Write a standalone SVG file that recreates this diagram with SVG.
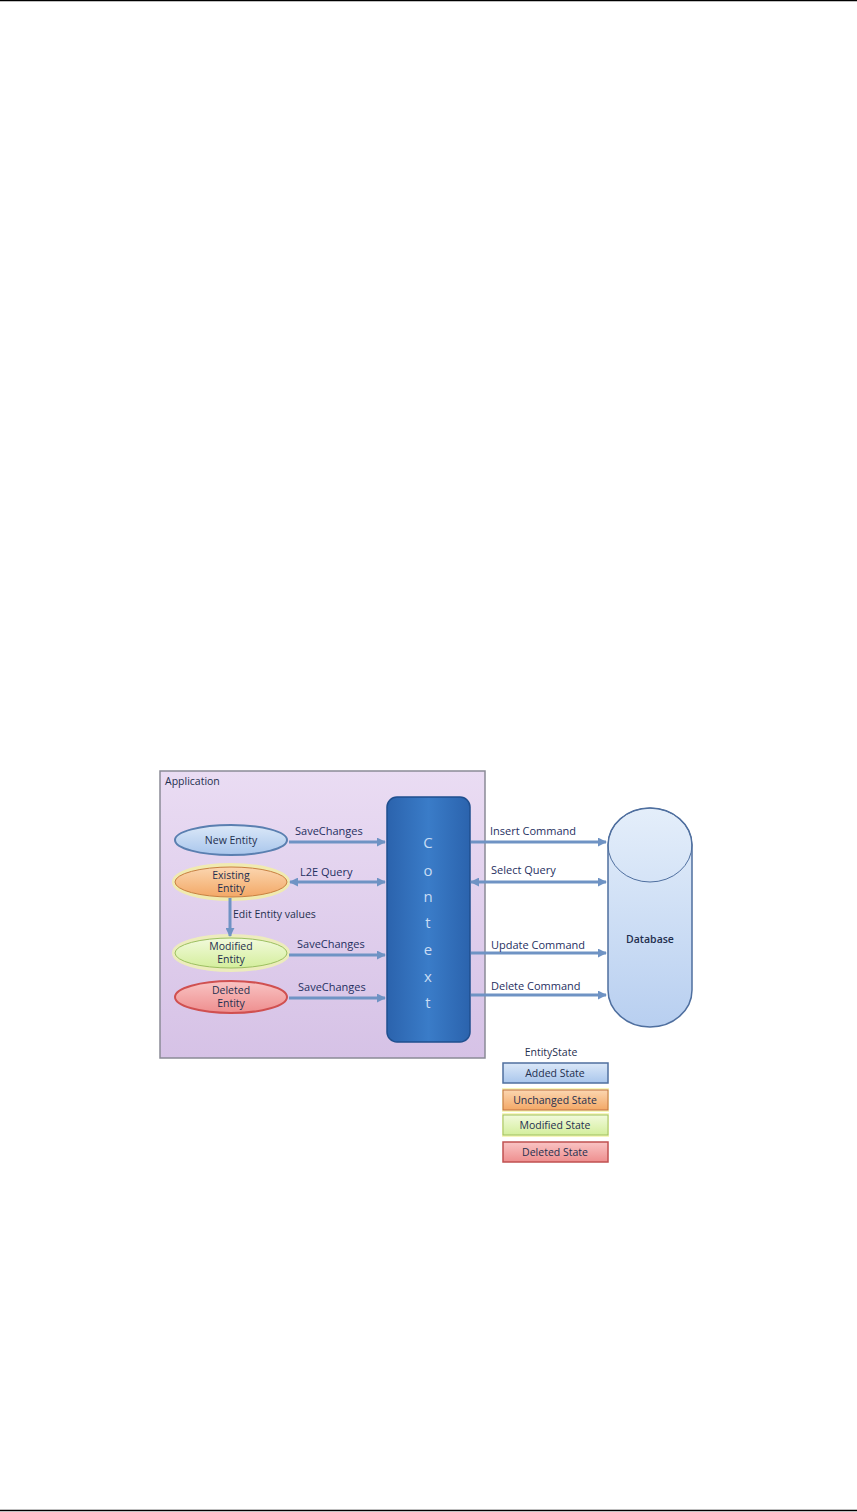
<svg xmlns="http://www.w3.org/2000/svg" width="857" height="1512" viewBox="0 0 857 1512">
<defs>
<style>
.t{font-family:"Open Sans","Liberation Sans",sans-serif;font-size:10.5px;fill:#1f2f4f}
.lbl{font-family:"Open Sans","Liberation Sans",sans-serif;font-size:11px;fill:#1f2f5f}
.ctx{font-family:"Open Sans","Liberation Sans",sans-serif;font-size:15px;fill:#c8dcf4;text-anchor:middle}
.c{text-anchor:middle}
.arr{stroke:#6f93c4;stroke-width:3;fill:none}
</style>
<linearGradient id="gApp" x1="0" y1="0" x2="0" y2="1"><stop offset="0" stop-color="#eadcf3"/><stop offset="1" stop-color="#d6c2e6"/></linearGradient>
<linearGradient id="gCtx" x1="0" y1="0" x2="1" y2="0"><stop offset="0" stop-color="#2b63ad"/><stop offset="0.5" stop-color="#3a7cc8"/><stop offset="1" stop-color="#2b63ad"/></linearGradient>
<linearGradient id="gDb" x1="0" y1="0" x2="0" y2="1"><stop offset="0" stop-color="#e4eefa"/><stop offset="1" stop-color="#b8cff0"/></linearGradient>
<linearGradient id="gBlue" x1="0" y1="0" x2="0" y2="1"><stop offset="0" stop-color="#dbe8f8"/><stop offset="1" stop-color="#a9c6ec"/></linearGradient>
<linearGradient id="gOr" x1="0" y1="0" x2="0" y2="1"><stop offset="0" stop-color="#fbd6b0"/><stop offset="1" stop-color="#f3a866"/></linearGradient>
<linearGradient id="gGr" x1="0" y1="0" x2="0" y2="1"><stop offset="0" stop-color="#f2fadc"/><stop offset="1" stop-color="#d4ee9c"/></linearGradient>
<linearGradient id="gRd" x1="0" y1="0" x2="0" y2="1"><stop offset="0" stop-color="#f9c4c4"/><stop offset="1" stop-color="#ee8e8e"/></linearGradient>
<marker id="ah" viewBox="0 0 10 10" refX="9" refY="5" markerWidth="3" markerHeight="3" orient="auto-start-reverse"><path d="M0,0 L10,5 L0,10 z" fill="#6f93c4"/></marker>
</defs>
<rect width="857" height="1512" fill="#fff"/>
<line x1="0" y1="0.5" x2="857" y2="0.5" stroke="#000" stroke-width="1.5"/>
<line x1="0" y1="1510.5" x2="857" y2="1510.5" stroke="#000" stroke-width="1.5"/>

<g id="application">
<rect x="160" y="771" width="325" height="287" fill="url(#gApp)" stroke="#8a8a96" stroke-width="1.5"/>
<text class="t" x="165" y="785" font-size="11">Application</text>
</g>

<g id="context">
<rect x="387" y="797" width="83" height="245" rx="10" fill="url(#gCtx)" stroke="#1f4f8f" stroke-width="1.5"/>
<text class="ctx" x="428" y="848">C</text>
<text class="ctx" x="428" y="876">o</text>
<text class="ctx" x="428" y="902">n</text>
<text class="ctx" x="428" y="928">t</text>
<text class="ctx" x="428" y="955">e</text>
<text class="ctx" x="428" y="982">x</text>
<text class="ctx" x="428" y="1008">t</text>
</g>

<g id="database">
<path d="M608,845 A42,37 0 0 1 692,845 L692,990 A42,37 0 0 1 608,990 Z" fill="url(#gDb)" stroke="#4f6f9f" stroke-width="1.5"/>
<ellipse cx="650" cy="845" rx="42" ry="37" fill="none" stroke="#4f6f9f" stroke-width="1"/>
<text class="t c" x="650" y="943" font-size="13" font-weight="600" fill="#1f2f4f">Database</text>
</g>

<g id="new-entity">
<ellipse cx="231" cy="840" rx="56" ry="15" fill="url(#gBlue)" stroke="#5a7fb0" stroke-width="2"/>
<text class="t c" x="231" y="844">New Entity</text>
</g>
<g id="existing-entity">
<ellipse cx="231" cy="882" rx="57" ry="17" fill="none" stroke="#f4f0a0" stroke-width="4" opacity="0.8"/>
<ellipse cx="231" cy="882" rx="56" ry="15" fill="url(#gOr)" stroke="#c88040" stroke-width="1"/>
<text class="t c" x="231" y="879">Existing</text>
<text class="t c" x="231" y="892">Entity</text>
</g>
<g id="modified-entity">
<ellipse cx="231" cy="953" rx="57" ry="17" fill="none" stroke="#f0f4b0" stroke-width="4" opacity="0.8"/>
<ellipse cx="231" cy="953" rx="56" ry="15" fill="url(#gGr)" stroke="#9cc060" stroke-width="1"/>
<text class="t c" x="231" y="950">Modified</text>
<text class="t c" x="231" y="963">Entity</text>
</g>
<g id="deleted-entity">
<ellipse cx="231" cy="997" rx="56" ry="16" fill="url(#gRd)" stroke="#d05050" stroke-width="2"/>
<text class="t c" x="231" y="994">Deleted</text>
<text class="t c" x="231" y="1007">Entity</text>
</g>

<g id="connectors">
<line class="arr" x1="289" y1="842" x2="385" y2="842" marker-end="url(#ah)"/>
<text class="lbl" x="295" y="835">SaveChanges</text>
<line class="arr" x1="290" y1="882" x2="385" y2="882" marker-start="url(#ah)" marker-end="url(#ah)"/>
<text class="lbl" x="300" y="876">L2E Query</text>
<line class="arr" x1="230" y1="898" x2="230" y2="936" marker-end="url(#ah)"/>
<text class="t" x="233" y="918" font-size="10">Edit Entity values</text>
<line class="arr" x1="289" y1="955" x2="385" y2="955" marker-end="url(#ah)"/>
<text class="lbl" x="297" y="948">SaveChanges</text>
<line class="arr" x1="289" y1="998" x2="385" y2="998" marker-end="url(#ah)"/>
<text class="lbl" x="298" y="991">SaveChanges</text>
<line class="arr" x1="471" y1="842" x2="606" y2="842" marker-end="url(#ah)"/>
<text class="lbl" x="490" y="835">Insert Command</text>
<line class="arr" x1="471" y1="882" x2="606" y2="882" marker-start="url(#ah)" marker-end="url(#ah)"/>
<text class="lbl" x="491" y="874">Select Query</text>
<line class="arr" x1="471" y1="953" x2="606" y2="953" marker-end="url(#ah)"/>
<text class="lbl" x="491" y="949">Update Command</text>
<line class="arr" x1="471" y1="995" x2="606" y2="995" marker-end="url(#ah)"/>
<text class="lbl" x="491" y="990">Delete Command</text>
</g>

<g id="legend">
<text class="t c" x="551" y="1056" font-size="11">EntityState</text>
<rect x="503" y="1063" width="105" height="20" fill="url(#gBlue)" stroke="#4f6f9f" stroke-width="1.5"/>
<text class="t c" x="555" y="1077" font-size="10">Added State</text>
<rect x="502" y="1088" width="107" height="24" fill="#f4f4a0" opacity="0.7"/>
<rect x="503" y="1090" width="105" height="20" fill="url(#gOr)" stroke="#c07040" stroke-width="1"/>
<text class="t c" x="555" y="1104" font-size="10">Unchanged State</text>
<rect x="502" y="1113" width="107" height="24" fill="#f4f4a0" opacity="0.7"/>
<rect x="503" y="1115" width="105" height="20" fill="url(#gGr)" stroke="#a0c060" stroke-width="1"/>
<text class="t c" x="555" y="1129" font-size="10">Modified State</text>
<rect x="503" y="1142" width="105" height="20" fill="url(#gRd)" stroke="#c05050" stroke-width="1.5"/>
<text class="t c" x="555" y="1156" font-size="10">Deleted State</text>
</g>
</svg>
